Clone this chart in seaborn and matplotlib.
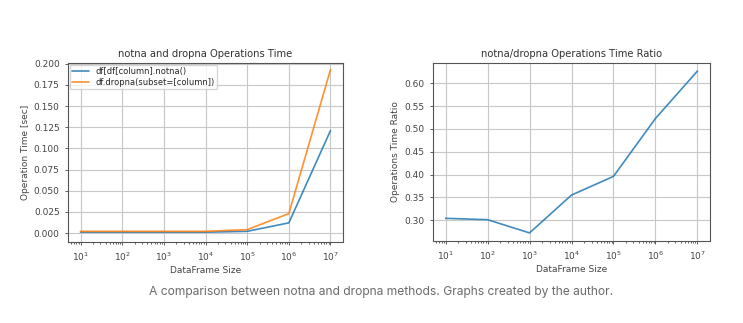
import numpy as np
import pandas as pd
import seaborn as sns
import matplotlib
matplotlib.use("Agg")
import matplotlib.pyplot as plt
from matplotlib.ticker import NullFormatter

sizes = [10, 100, 1000, 10**4, 10**5, 10**6, 10**7]
notna_time = [0.001, 0.001, 0.001, 0.001, 0.002, 0.012, 0.121]
dropna_time = [0.002, 0.002, 0.002, 0.002, 0.004, 0.023, 0.193]
ratio = [0.304, 0.301, 0.272, 0.355, 0.396, 0.523, 0.627]
labels = ["df[df[column].notna()", "df.dropna(subset=[column])"]

sns.set_style("ticks")
plt.rcParams['font.family'] = ['DejaVu Sans']

fig = plt.figure(figsize=(7.43, 3.23), dpi=100)
ax1 = fig.add_axes([68/743, 1-242/323, 275/743, 179/323])
ax2 = fig.add_axes([433/743, 1-241/323, 277/743, 178/323])

df1 = pd.DataFrame({"size": sizes * 2,
                    "time": notna_time + dropna_time,
                    "method": [labels[0]] * 7 + [labels[1]] * 7})
sns.lineplot(data=df1, x="size", y="time", hue="method",
             palette=["#1f77b4", "#ff7f0e"], ax=ax1, lw=1.2, alpha=0.85)
ax1.set_xscale("log")
ax1.set_ylim(-0.0106, 0.2008)
ax1.set_yticks(np.arange(0, 0.2001, 0.025))
ax1.set_title("notna and dropna Operations Time", fontsize=7.2, color="#333333", pad=4)
ax1.set_xlabel("DataFrame Size", fontsize=6.5, color="#444444", labelpad=2)
ax1.set_ylabel("Operation Time [sec]", fontsize=6.5, color="#444444", labelpad=3)
leg = ax1.legend(loc="upper left", fontsize=6, frameon=True, borderaxespad=0.2,
                 handlelength=2.0, labelspacing=0.2, borderpad=0.3)
leg.get_frame().set_edgecolor("#cccccc")

df2 = pd.DataFrame({"size": sizes, "ratio": ratio})
sns.lineplot(data=df2, x="size", y="ratio", color="#1f77b4", ax=ax2, lw=1.2, alpha=0.85)
ax2.set_xscale("log")
ax2.set_title("notna/dropna Operations Time Ratio", fontsize=7.2, color="#333333", pad=4)
ax2.set_xlabel("DataFrame Size", fontsize=6.5, color="#444444", labelpad=2)
ax2.set_ylabel("Operations Time Ratio", fontsize=6.5, color="#444444", labelpad=3)

for ax in (ax1, ax2):
    ax.set_xlim(10**0.7, 10**7.3)
    ax.xaxis.set_minor_formatter(NullFormatter())
    ax.grid(True, which="major", color="#c8c8c8", lw=0.8)
    ax.tick_params(labelsize=6.5, colors="#444444", length=2.5, width=0.6)
    ax.tick_params(which="minor", length=1.5, width=0.5)
    for s in ax.spines.values():
        s.set_color("#555555")
        s.set_linewidth(0.8)

fig.text(381/743, 1-292/323, "A comparison between notna and dropna methods. Graphs created by the author.",
         ha="center", va="center", fontsize=8.7, color="#6b6b6b", family=["Inter", "DejaVu Sans"])

fig.savefig("out.png", dpi=100)
